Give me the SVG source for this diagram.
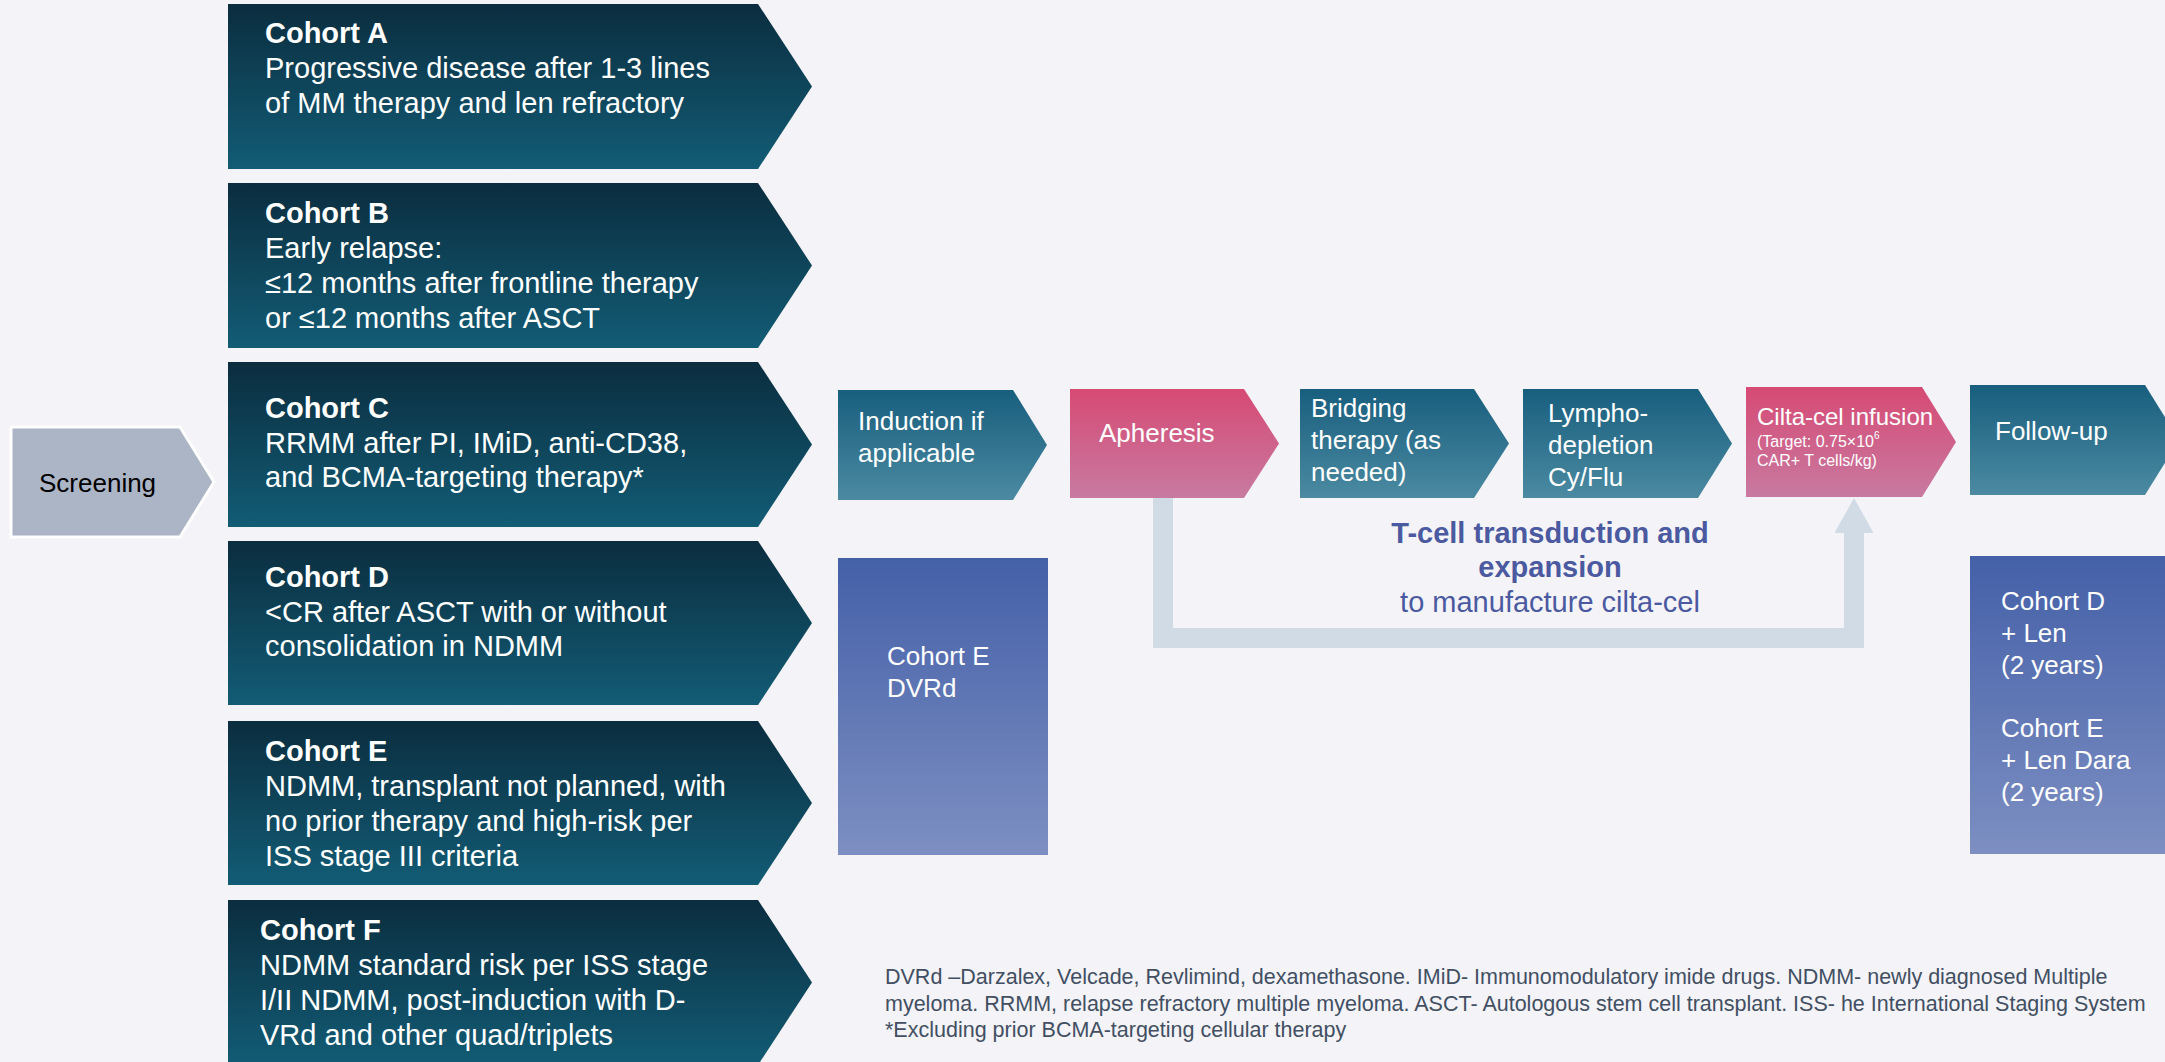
<svg xmlns="http://www.w3.org/2000/svg" width="2165" height="1062" viewBox="0 0 2165 1062">
<defs>
<linearGradient id="gCohort" x1="0" y1="0" x2="0" y2="1"><stop offset="0" stop-color="#0b2d3f"/><stop offset="1" stop-color="#125c75"/></linearGradient>
<linearGradient id="gTeal" x1="0" y1="0" x2="0" y2="1"><stop offset="0" stop-color="#185e7e"/><stop offset="1" stop-color="#4b8aa1"/></linearGradient>
<linearGradient id="gPink" x1="0" y1="0" x2="0" y2="1"><stop offset="0" stop-color="#d64a74"/><stop offset="1" stop-color="#c87aa1"/></linearGradient>
<linearGradient id="gBlue" x1="0" y1="0" x2="0" y2="1"><stop offset="0" stop-color="#4460a8"/><stop offset="1" stop-color="#7d8fc2"/></linearGradient>
<marker id="arrowUp" markerUnits="userSpaceOnUse" markerWidth="35" markerHeight="39" viewBox="0 0 35 39" refX="0" refY="19.5" orient="auto"><path d="M0,0 L35,19.5 L0,39 z" fill="#d0dbe5"/></marker>
</defs>
<style>
text{font-family:"Liberation Sans",Arial,sans-serif;}
.ct{fill:#ffffff;font-size:29px;}
.ch{font-weight:bold;}
.pt{fill:#ffffff;font-size:26px;}
.cohort{fill:url(#gCohort);}
.teal{fill:url(#gTeal);}
.pink{fill:url(#gPink);}
.blue{fill:url(#gBlue);}
.tc{fill:#4b5aa0;font-size:29px;text-anchor:middle;}
.fn{fill:#424f62;font-size:21.5px;}
</style>
<rect width="2165" height="1062" fill="#f3f3f8"/>

<g id="connectors">
<path d="M1163,498 V638 H1854 V533" fill="none" stroke="#d0dbe5" stroke-width="20" stroke-linejoin="miter" marker-end="url(#arrowUp)"/>
</g>

<g id="screening">
<polygon points="11,427 180,427 214,482 180,537 11,537" fill="#abb5c5" stroke="#ffffff" stroke-width="3"/>
<text x="39" y="492" font-size="26" fill="#000000">Screening</text>
</g>

<g id="cohortA">
<polygon class="cohort" points="228,4 758,4 812,86.5 758,169 228,169"/>
<text class="ct"><tspan class="ch" x="265" y="43">Cohort A</tspan><tspan x="265" y="78">Progressive disease after 1-3 lines</tspan><tspan x="265" y="113">of MM therapy and len refractory</tspan></text>
</g>
<g id="cohortB">
<polygon class="cohort" points="228,183 758,183 812,265.5 758,348 228,348"/>
<text class="ct"><tspan class="ch" x="265" y="223">Cohort B</tspan><tspan x="265" y="258">Early relapse:</tspan><tspan x="265" y="293">≤12 months after frontline therapy</tspan><tspan x="265" y="328">or ≤12 months after ASCT</tspan></text>
</g>
<g id="cohortC">
<polygon class="cohort" points="228,362 758,362 812,444.5 758,527 228,527"/>
<text class="ct"><tspan class="ch" x="265" y="418">Cohort C</tspan><tspan x="265" y="453">RRMM after PI, IMiD, anti-CD38,</tspan><tspan x="265" y="487">and BCMA-targeting therapy*</tspan></text>
</g>
<g id="cohortD">
<polygon class="cohort" points="228,541 758,541 812,623 758,705 228,705"/>
<text class="ct"><tspan class="ch" x="265" y="587">Cohort D</tspan><tspan x="265" y="622">&lt;CR after ASCT with or without</tspan><tspan x="265" y="656">consolidation in NDMM</tspan></text>
</g>
<g id="cohortE">
<polygon class="cohort" points="228,721 758,721 812,803 758,885 228,885"/>
<text class="ct"><tspan class="ch" x="265" y="761">Cohort E</tspan><tspan x="265" y="796">NDMM, transplant not planned, with</tspan><tspan x="265" y="831">no prior therapy and high-risk per</tspan><tspan x="265" y="866">ISS stage III criteria</tspan></text>
</g>
<g id="cohortF">
<polygon class="cohort" points="228,900 758,900 812,982.5 758,1065 228,1065"/>
<text class="ct"><tspan class="ch" x="260" y="940">Cohort F</tspan><tspan x="260" y="975">NDMM standard risk per ISS stage</tspan><tspan x="260" y="1010">I/II NDMM, post-induction with D-</tspan><tspan x="260" y="1045">VRd and other quad/triplets</tspan></text>
</g>

<g id="induction">
<polygon class="teal" points="838,390 1013,390 1047,445 1013,500 838,500"/>
<text class="pt"><tspan x="858" y="430">Induction if</tspan><tspan x="858" y="462">applicable</tspan></text>
</g>
<g id="apheresis">
<polygon class="pink" points="1070,389 1244,389 1279,443.5 1244,498 1070,498"/>
<text class="pt" x="1099" y="442">Apheresis</text>
</g>
<g id="bridging">
<polygon class="teal" points="1300,389 1474,389 1509,443.5 1474,498 1300,498"/>
<text class="pt"><tspan x="1311" y="417">Bridging</tspan><tspan x="1311" y="449">therapy (as</tspan><tspan x="1311" y="481">needed)</tspan></text>
</g>
<g id="lymphodepletion">
<polygon class="teal" points="1523,389 1698,389 1732,443.5 1698,498 1523,498"/>
<text class="pt"><tspan x="1548" y="422">Lympho-</tspan><tspan x="1548" y="454">depletion</tspan><tspan x="1548" y="486">Cy/Flu</tspan></text>
</g>
<g id="infusion">
<polygon class="pink" points="1746,387 1922,387 1956,442 1922,497 1746,497"/>
<text fill="#ffffff" font-size="24" x="1757" y="425">Cilta-cel infusion</text>
<text fill="#ffffff" font-size="16"><tspan x="1757" y="447">(Target: 0.75×10</tspan><tspan font-size="10" dy="-8">6</tspan><tspan x="1757" y="466">CAR+ T cells/kg)</tspan></text>
</g>
<g id="followup">
<polygon class="teal" points="1970,385 2145,385 2179,440 2145,495 1970,495"/>
<text class="pt" x="1995" y="440">Follow-up</text>
</g>

<g id="manufacture">
<text class="tc"><tspan x="1550" y="543" font-weight="bold">T-cell transduction and</tspan><tspan x="1550" y="577" font-weight="bold">expansion</tspan><tspan x="1550" y="612">to manufacture cilta-cel</tspan></text>
</g>

<g id="cohortE-dvrd">
<rect class="blue" x="838" y="558" width="210" height="297"/>
<text class="pt"><tspan x="887" y="665">Cohort E</tspan><tspan x="887" y="697">DVRd</tspan></text>
</g>
<g id="maintenance">
<rect class="blue" x="1970" y="556" width="200" height="298"/>
<text class="pt"><tspan x="2001" y="610">Cohort D</tspan><tspan x="2001" y="642">+ Len</tspan><tspan x="2001" y="674">(2 years)</tspan><tspan x="2001" y="737">Cohort E</tspan><tspan x="2001" y="769">+ Len Dara</tspan><tspan x="2001" y="801">(2 years)</tspan></text>
</g>

<g id="footnote">
<text class="fn"><tspan x="885" y="984">DVRd –Darzalex, Velcade, Revlimind, dexamethasone. IMiD- Immunomodulatory imide drugs. NDMM- newly diagnosed Multiple</tspan><tspan x="885" y="1010.5">myeloma. RRMM, relapse refractory multiple myeloma. ASCT- Autologous stem cell transplant. ISS- he International Staging System</tspan><tspan x="885" y="1037">*Excluding prior BCMA-targeting cellular therapy</tspan></text>
</g>
</svg>
